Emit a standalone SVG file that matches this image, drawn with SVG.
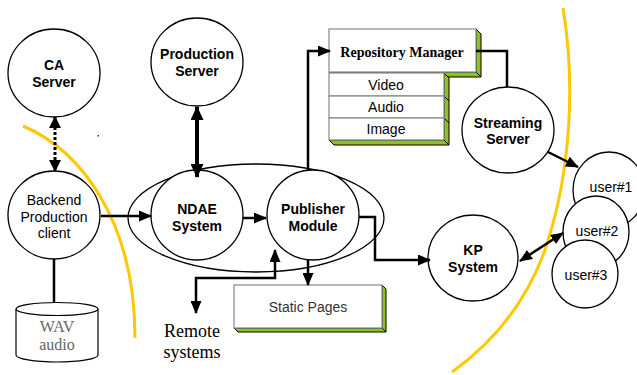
<svg xmlns="http://www.w3.org/2000/svg" width="637" height="375" viewBox="0 0 637 375">
<style>
.node{fill:#fff;stroke:#000;stroke-width:1.3}
.b{font-family:"Liberation Sans",Arial,sans-serif;font-weight:bold;font-size:14px;text-anchor:middle;fill:#000}
.r{font-family:"Liberation Sans",Arial,sans-serif;font-size:14px;text-anchor:middle;fill:#000}
.g{font-family:"Liberation Sans",Arial,sans-serif;font-size:14px;text-anchor:middle;fill:#333}
.s{font-family:"Liberation Serif","Times New Roman",serif;text-anchor:middle}
.c{fill:none;stroke:#000;stroke-width:2.5}
.y{fill:none;stroke:#ffc800;stroke-width:3}
.box{fill:#fff;stroke:#888;stroke-width:1.2}
.green{fill:#8cc21a;stroke:#000;stroke-width:1}
</style>
<defs>
<marker id="ah" markerUnits="userSpaceOnUse" markerWidth="13" markerHeight="11" refX="12" refY="5.5" orient="auto-start-reverse"><path d="M0,0 L13,5.5 L0,11 z" fill="#000"/></marker>
<marker id="ahb" markerUnits="userSpaceOnUse" markerWidth="14" markerHeight="13" refX="13" refY="6.5" orient="auto-start-reverse"><path d="M0,0 L14,6.5 L0,13 z" fill="#000"/></marker>
<marker id="ahd" markerUnits="userSpaceOnUse" markerWidth="12" markerHeight="12" refX="11" refY="6" orient="auto-start-reverse"><path d="M0,0 L12,6 L0,12 z" fill="#000"/></marker>
</defs>
<rect width="637" height="375" fill="#fff"/>
<g id="boundaries">
<path class="y" d="M23,126 C80,150 135,220 135,338"/>
<path class="y" d="M563,8 C575,80 572,170 545,250 C525,305 490,345 452,372"/>
</g>
<rect x="97.5" y="135" width="1.5" height="1.5" fill="#333"/>
<g id="ndae-group">
<ellipse class="node" cx="256" cy="218" rx="128" ry="54"/>
</g>
<g id="ca-server">
<ellipse class="node" cx="54" cy="73" rx="46" ry="44"/>
<text class="b" x="54" y="70">CA</text>
<text class="b" x="54" y="87">Server</text>
</g>
<g id="production-server">
<ellipse class="node" cx="197" cy="62" rx="46" ry="44"/>
<text class="b" x="197" y="59">Production</text>
<text class="b" x="197" y="76">Server</text>
</g>
<g id="backend">
<ellipse class="node" cx="54" cy="215" rx="46" ry="44"/>
<text class="r" x="54" y="205">Backend</text>
<text class="r" x="54" y="222">Production</text>
<text class="r" x="54" y="238">client</text>
</g>
<g id="wav-audio">
<path d="M16,309 L16,355 A41,7 0 0 0 98,355 L98,309" fill="#fff" stroke="#000" stroke-width="1.2"/>
<ellipse cx="57" cy="309" rx="41" ry="6.5" fill="#fff" stroke="#000" stroke-width="1.2"/>
<text class="s" x="57" y="332" font-size="16" fill="#666">WAV</text>
<text class="s" x="57" y="350" font-size="16" fill="#666">audio</text>
</g>
<g id="ndae">
<ellipse class="node" cx="197" cy="215" rx="46" ry="45"/>
<text class="b" x="197" y="214">NDAE</text>
<text class="b" x="197" y="231">System</text>
</g>
<g id="publisher">
<ellipse class="node" cx="313" cy="215" rx="46" ry="45"/>
<text class="b" x="313" y="214">Publisher</text>
<text class="b" x="313" y="231">Module</text>
</g>
<g id="repository-manager">
<polygon class="green" points="476,29 481,34 481,77 476,72"/>
<polygon class="green" points="329,72 476,72 481,77 334,77"/>
<rect class="box" x="329" y="29" width="147" height="43"/>
<text class="s" x="402" y="57" font-size="14" font-weight="bold">Repository Manager</text>
</g>
<g id="media">
<polygon class="green" points="444,73 449,78 449,145 444,140"/>
<polygon class="green" points="329,140 444,140 449,145 334,145"/>
<line x1="444" y1="96" x2="449" y2="101" stroke="#000" stroke-width="1"/>
<line x1="444" y1="118" x2="449" y2="123" stroke="#000" stroke-width="1"/>
<rect class="box" x="329" y="73" width="115" height="23"/>
<rect class="box" x="329" y="96" width="115" height="22"/>
<rect class="box" x="329" y="118" width="115" height="22"/>
<text class="r" x="386" y="90">Video</text>
<text class="r" x="386" y="112">Audio</text>
<text class="r" x="386" y="134">Image</text>
</g>
<g id="static-pages">
<polygon class="green" points="382,285 386,289 386,332 382,328"/>
<polygon class="green" points="234,328 382,328 386,332 238,332"/>
<rect class="box" x="234" y="285" width="148" height="43"/>
<text class="g" x="308" y="312">Static Pages</text>
</g>
<g id="streaming-server">
<ellipse class="node" cx="508" cy="130" rx="46" ry="43"/>
<text class="b" x="508" y="128">Streaming</text>
<text class="b" x="508" y="144">Server</text>
</g>
<g id="kp-system">
<ellipse class="node" cx="473" cy="258" rx="45" ry="43"/>
<text class="b" x="473" y="255">KP</text>
<text class="b" x="473" y="272">System</text>
</g>
<g id="user1">
<ellipse class="node" cx="609" cy="190" rx="36" ry="38"/>
<text class="r" x="611" y="192">user#1</text>
</g>
<g id="user2">
<ellipse class="node" cx="596" cy="232" rx="33" ry="36"/>
<text class="r" x="597" y="236">user#2</text>
</g>
<g id="user3">
<ellipse class="node" cx="585" cy="274" rx="33" ry="34"/>
<text class="r" x="586" y="280">user#3</text>
</g>
<g id="remote-systems">
<text class="s" x="192" y="337" font-size="18">Remote</text>
<text class="s" x="192" y="358" font-size="18">systems</text>
</g>
<g id="connectors">
<line x1="55" y1="117" x2="55" y2="171" fill="none" stroke="#000" stroke-width="3" stroke-dasharray="3,2" marker-start="url(#ahd)" marker-end="url(#ahd)"/>
<line x1="197" y1="107" x2="197" y2="177" fill="none" stroke="#000" stroke-width="4" marker-start="url(#ahb)" marker-end="url(#ahb)"/>
<line x1="54" y1="259" x2="54" y2="302" stroke="#000" stroke-width="2.5"/>
<line class="c" x1="101" y1="216" x2="151" y2="216" marker-end="url(#ah)"/>
<line class="c" x1="243" y1="218" x2="266" y2="218" marker-end="url(#ah)"/>
<polyline class="c" points="308,171 308,51 330,51" marker-end="url(#ah)"/>
<line class="c" x1="308" y1="260" x2="308" y2="285" marker-end="url(#ah)"/>
<polyline class="c" points="196,313 196,278 275,278 275,250" marker-start="url(#ah)" marker-end="url(#ah)"/>
<polyline class="c" points="359,217 375,217 375,260 430,260" marker-end="url(#ah)"/>
<polyline class="c" points="476,51 507,51 507,87" stroke-width="2"/>
<line class="c" x1="548" y1="152" x2="578" y2="167" marker-end="url(#ah)"/>
<line class="c" x1="520" y1="261" x2="563" y2="233" marker-start="url(#ah)" marker-end="url(#ah)"/>
</g>
</svg>
